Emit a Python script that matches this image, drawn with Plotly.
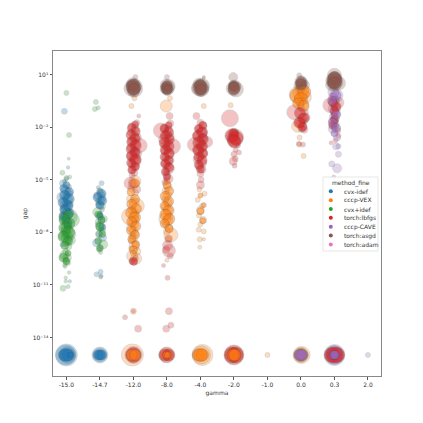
import plotly.graph_objects as go

gamma_labels = ["-15.0", "-14.7", "-12.0", "-8.0", "-4.0", "-2.0", "-1.0", "0.0", "0.3", "2.0"]
exponent_ticks = [1, -2, -5, -8, -11, -14]
exponent_labels = ["10\u00b9", "10\u207b\u00b2", "10\u207b\u2075", "10\u207b\u2078", "10\u207b\u00b9\u00b9", "10\u207b\u00b9\u2074"]
method_names = ["cvx-idef", "cccp-VEX", "cvx+idef", "torch:lbfgs", "cccp-CAVE", "torch:asgd", "torch:adam"]
method_colors = ["#1f77b4", "#ff7f0e", "#2ca02c", "#d62728", "#9467bd", "#8c564b", "#e377c2"]

# Rows: gamma index, horizontal strip offset, log10(gap), bubble size
cvx_idef = [
 (0,-.06,-1.1,6),(0,.05,-4.3,3.5),(0,.0,-4.9,5),(0,-.1,-5.2,7),(0,.08,-5.4,5),(0,-.04,-5.6,8),(0,.1,-5.8,6),(0,.02,-5.9,7),
 (0,-.12,-6.0,11),(0,.05,-6.15,9),(0,-.02,-6.3,8),(0,.1,-6.4,7),(0,-.08,-6.5,8),(0,.04,-6.6,7),(0,-.03,-6.75,9),(0,.09,-6.85,6),
 (0,-.1,-7.0,7),(0,.02,-7.1,8),(0,-.05,-7.25,6),(0,.07,-7.4,6),(0,-.02,-7.55,7),(0,.05,-7.7,6),(0,-.07,-7.85,6),(0,.02,-8.0,7),
 (0,-.04,-8.2,6),(0,.08,-8.35,5),(0,-.12,-8.7,5),(0,.05,-8.55,5),(0,.1,-10.8,3.5),
 (1,.05,-5.2,5),(1,-.05,-5.45,4),(1,.0,-5.7,7),(1,-.08,-5.9,7),(1,.07,-6.05,7),(1,.02,-6.2,8),(1,-.04,-6.45,6),(1,.06,-6.7,5),
 (1,.0,-7.0,6),(1,.05,-7.3,7),(1,-.06,-7.55,5),(1,.02,-7.8,5),(1,-.03,-8.1,7),(1,.08,-8.3,8),(1,-.1,-8.6,8),(1,.0,-8.9,5),
 (1,-.1,-10.4,5),(1,.02,-10.25,5),(1,.04,-10.5,4),
 (0,.03,-15,17),(0,-.02,-15,20),(0,.0,-15,22),(1,.0,-15,14),(1,.0,-15,16),
]
cccp_vex = [
 (2,.03,-.35,5),(2,-.06,-.8,5),(2,.04,-5.1,12),(2,-.08,-5.5,6),(2,.05,-5.75,7),(2,-.1,-6.1,7),(2,.02,-6.3,10),(2,.1,-6.5,15),
 (2,-.05,-6.7,8),(2,.03,-6.9,9),(2,-.1,-7.1,17),(2,.0,-7.15,10),(2,.06,-7.3,8),(2,-.03,-7.45,8),(2,.04,-7.6,7),(2,-.07,-7.75,9),
 (2,.0,-7.9,8),(2,.06,-8.05,7),(2,-.03,-8.2,7),(2,.0,-8.35,8),(2,-.06,-8.5,6),(2,.06,-8.65,6),(2,.02,-8.8,10),(2,-.05,-8.95,6),
 (2,.1,-9.1,8),(2,-.04,-9.35,11),(2,.08,-9.5,11),(2,.0,-9.2,6),(2,.0,-12.5,6),
 (3,-.02,-.8,12),(3,.09,-.35,5),(3,.0,-5.1,6),(3,.03,-5.4,8),(3,-.04,-5.65,7),(3,.02,-5.9,9),(3,-.05,-6.15,7),(3,.04,-6.35,8),
 (3,-.03,-6.55,9),(3,.05,-6.75,8),(3,-.02,-6.95,10),(3,.08,-7.1,7),(3,-.06,-7.25,12),(3,.02,-7.35,10),(3,-.03,-7.55,7),(3,.05,-7.75,8),
 (3,.0,-7.95,7),(3,.12,-8.15,14),(3,.06,-8.35,7),(3,.0,-9.6,4),
 (4,.1,-.8,5),(4,.1,.8,3),(4,-.03,-5.55,5),(4,.12,-5.8,5),(4,-.08,-6.15,5),(4,.05,-6.5,5),(4,.0,-6.75,8),(4,-.04,-7.05,5),
 (4,.08,-7.3,7),(4,.0,-7.55,5),(4,-.05,-7.85,5),(4,.1,-7.95,5),(4,-.02,-8.4,5),(4,.1,-8.4,3.5),(4,-.02,-8.85,4),
 (5,-.1,-.75,5),(7,-.08,-.17,18),(7,.0,-.05,16),(7,.04,.1,13),(7,.1,-.3,14),(7,-.04,-.45,11),(7,.05,-.7,12),(7,-.1,-1.95,12),(7,-.04,-2.6,5),(7,-.05,-3,5),(7,.08,-3.65,5),(7,.02,-1.75,9),
 (2,-.03,-15,22),(3,.0,-15,16),(4,.06,-15,21),(4,.03,-15,18),(5,.0,-15,19),
 (6,.0,-15,5),(7,.02,-15,17),
]
cvx_plus_idef = [
 (0,.0,-.05,5),(0,.08,-2.45,5),(0,.07,-3.8,3),(0,-.12,-4.6,5),(0,.0,-4.95,4),(0,.1,-4.85,4),(0,-.06,-5.1,4),(0,.05,-5.6,5),
 (0,-.03,-6.0,7),(0,.06,-6.35,7),(0,-.08,-6.6,6),(0,.02,-6.85,8),(0,-.04,-7.05,9),(0,.1,-7.1,15),(0,.18,-7.3,14),(0,-.1,-7.35,8),
 (0,.03,-7.5,9),(0,-.05,-7.7,8),(0,.08,-7.85,7),(0,-.02,-8.0,10),(0,.1,-8.1,12),(0,-.1,-8.2,9),(0,.02,-8.3,12),(0,.12,-8.45,10),
 (0,-.03,-8.6,7),(0,.06,-8.8,7),(0,-.02,-9.1,6),(0,-.06,-9.3,9),(0,.03,-9.45,8),(0,-.02,-9.6,6),(0,.05,-9.75,5),(0,-.04,-9.95,4),
 (0,.08,-10.3,3.5),(0,-.02,-10.6,3.5),(0,-.02,-10.8,3.5),(0,-.1,-11.2,6),(0,.05,-11.1,4),(0,-.05,-9.85,4),
 (1,-.12,-.57,5),(1,-.15,-.97,5),(1,-.05,-.9,4),(1,.0,-5.6,5),(1,.07,-5.85,5),(1,-.05,-6.25,6),(1,.06,-6.5,7),(1,-.08,-6.85,9),
 (1,.0,-7.0,6),(1,.12,-7.25,7),(1,-.05,-7.4,6),(1,.0,-7.65,9),(1,.08,-7.9,6),(1,-.02,-8.1,6),(1,.1,-8.7,9),(1,-.02,-9.0,5),(1,.02,-9.15,4),(1,.02,-10.55,4),
]
torch_lbfgs = [
 (2,.16,-1.37,4),(2,.1,-1.75,6),(2,-.05,-1.95,7),(2,.05,-2.1,8),(2,-.08,-2.3,7),(2,.03,-2.5,9),(2,.12,-2.6,8),(2,-.04,-2.75,9),
 (2,.06,-2.95,9),(2,.2,-3.05,14),(2,-.06,-3.15,9),(2,.02,-3.35,8),(2,.1,-3.5,10),(2,-.08,-3.65,8),(2,.02,-3.8,10),(2,.06,-3.95,11),
 (2,-.04,-4.1,8),(2,.06,-4.25,7),(2,-.02,-4.4,8),(2,.03,-4.6,7),(2,-.04,-4.75,6),(2,.0,-5.25,10),(2,.1,-5.55,8),(2,-.1,-5.2,12),
 (2,.02,-9.7,7),(2,.06,-9.5,6),(2,-.05,-9.65,6),(2,-.25,-12.85,5),(2,.14,-13.5,7),(2,.0,-12.5,4),
 (3,.08,-1.37,7),(3,.1,-1.8,7),(3,-.08,-2.05,8),(3,-.18,-2.2,15),(3,.05,-2.15,8),(3,.0,-2.4,9),(3,.1,-2.55,8),(3,-.1,-2.7,10),
 (3,.04,-2.85,9),(3,-.05,-3.0,9),(3,.18,-3.1,15),(3,.02,-3.25,8),(3,-.08,-3.4,7),(3,.06,-3.55,10),(3,-.03,-3.75,8),(3,.08,-3.9,9),
 (3,-.04,-4.05,10),(3,.02,-4.2,8),(3,.06,-4.35,11),(3,-.02,-4.55,7),(3,.0,-4.75,8),(3,.05,-4.95,9),(3,-.06,-5.15,6),(3,.04,-8.4,7),
 (3,.02,-8.75,10),(3,.06,-9.05,13),(3,-.02,-9.0,7),(3,.1,-9.35,6),(3,-.1,-9.9,4),(3,.02,-10.6,5),(3,.06,-12.5,7),(3,.12,-13.3,6),(3,-.02,-13.5,7),
 (4,-.12,-1.37,7),(4,.0,-1.75,7),(4,.08,-1.95,8),(4,-.05,-2.1,7),(4,.05,-2.3,10),(4,-.1,-2.5,9),(4,.08,-2.6,9),(4,.2,-2.85,11),
 (4,.0,-2.95,10),(4,-.18,-3.0,14),(4,.05,-3.15,9),(4,-.06,-3.35,10),(4,.08,-3.5,9),(4,.0,-3.65,8),(4,-.08,-3.85,9),(4,.05,-4.05,9),
 (4,-.03,-4.25,8),(4,.05,-4.4,8),(4,.0,-4.65,7),(4,.0,-5.3,8),(4,.02,-5.0,6),
 (5,-.12,-1.5,17),(5,.0,-2.35,8),(5,-.05,-2.5,11),(5,.06,-2.55,15),(5,-.03,-2.7,12),(5,.03,-2.85,12),(5,.12,-3.05,5),(5,.05,-3.3,5),(5,.15,-3.45,5),(5,.0,-3.55,6),(5,.04,-3.8,6),(5,-.02,-3.95,8),(5,.02,-4.2,5),
 (7,-.2,-1.15,15),(7,.12,-1.15,7),(7,.14,-1.45,9),(7,.05,-1.5,9),(7,-.03,-1.75,10),(7,.05,-1.95,8),(7,.1,-2.15,7),(7,-.06,-2.95,5),(7,.06,-3.0,5),(7,.02,-2.1,7),
 (8,-.04,-.3,9),(8,.02,-.45,8),(8,.12,-.6,11),(8,-.12,-.75,15),(8,.03,-.85,9),(8,.0,-1.35,7),(8,.03,-1.5,8),(8,-.04,-1.65,9),(8,.02,-1.95,7),(8,.1,-2.2,6),(8,.12,-2.5,5),(8,-.1,-2.9,4),(8,.03,-2.75,5),
 (2,.0,-15,17),(3,-.02,-15,15),(5,.0,-15,20),(8,.0,-15,18),
]
cccp_cave = [
 (7,.0,-.9,7),(7,.05,-1.6,6),(8,-.03,.0,11),(8,.06,-.2,13),(8,.0,-.55,10),(8,-.05,-.95,9),(8,.05,-1.2,9),(8,-.03,-1.4,8),(8,.02,-1.8,8),
 (8,-.05,-2.1,9),(8,.08,-2.6,7),(8,.05,-3.1,7),(8,.12,-3.1,5),(8,.12,-3.55,6),(8,-.08,-4.1,6),(8,.08,-4.35,9),(8,-.02,-4.85,4),
 (8,.0,-15,21),(8,.0,-15,19),(9,.0,-15,5),
]
torch_asgd = [
 (2,.06,.85,5),(2,-.02,.45,13),(2,.05,.35,14),(2,.0,.3,15),(2,-.06,.2,15),(2,.05,.15,15),(2,.0,.05,12),(2,-.05,.4,11),
 (3,.0,.85,5),(3,-.02,.4,12),(3,.05,.35,13),(3,.0,.3,11),(3,-.04,.2,11),(3,.02,.15,12),(3,.0,.1,10),(3,.02,.25,14),
 (4,.1,.85,3),(4,-.04,.45,12),(4,.05,.35,15),(4,.0,.3,13),(4,-.06,.2,14),(4,.04,.15,14),(4,.0,.05,11),(4,.0,.25,17),
 (5,-.02,.85,9),(5,-.03,.4,9),(5,.03,.35,12),(5,.0,.3,10),(5,-.04,.2,13),(5,.06,.15,15),(5,.0,.1,11),(5,.02,.25,12),
 (7,-.05,.95,5),(7,.0,.6,12),(7,.03,.5,12),(7,-.03,.4,12),(7,.0,.3,10),(7,.02,.45,10),(7,.12,.4,9),
 (8,.0,.95,14),(8,.02,.75,14),(8,-.02,.65,16),(8,.03,.55,15),(8,.0,.45,14),(8,-.04,.6,12),(8,.12,.5,14),(8,-.1,.4,11),(8,.0,.85,11),
 (7,.0,-15,15),
]
torch_adam = [
 (2,.05,-3.35,7),(2,.03,-3.5,8),(3,.05,-2.45,6),(4,.08,-2.4,7),(4,.05,-2.6,6),(5,.02,-2.35,6),(7,.02,-.8,5),(8,.02,-1.0,5),
]

# Densest parts of each column, drawn with stronger ink
cvx_idef_core = [
 (0,.0,-5.3,7),(0,-.08,-5.5,8),(0,.08,-5.7,9),(0,-.05,-5.9,10),(0,.07,-6.1,11),(0,-.1,-6.3,10),(0,.05,-6.5,10),(0,-.05,-6.7,10),(0,.09,-6.9,9),(0,-.09,-7.1,9),(0,.0,-7.3,9),(0,.05,-7.6,8),
 (1,.05,-5.8,9),(1,-.07,-6.0,9),(1,.07,-6.2,9),(1,.0,-6.45,8),(1,.0,-7.1,7),(1,.07,-7.7,7),
]
cvx_plus_idef_core = [
 (0,.05,-7.0,9),(0,-.07,-7.25,10),(0,.09,-7.5,11),(0,-.05,-7.75,12),(0,.07,-8.0,12),(0,-.09,-8.25,11),(0,.05,-8.5,9),(0,-.05,-8.75,8),(0,.05,-9.2,6),(0,-.09,-9.45,9),(0,.0,-9.65,7),
 (1,-.05,-7.0,7),(1,.05,-7.3,7),(1,.0,-7.7,8),(1,.07,-8.1,7),(1,-.05,-8.5,7),(1,.0,-8.9,7),
]
cccp_vex_core = [
 (2,.05,-5.2,9),(2,-.07,-5.7,8),(2,.05,-6.1,9),(2,-.05,-6.4,10),(2,.09,-6.65,10),(2,-.07,-6.9,11),(2,.05,-7.15,11),(2,-.05,-7.4,10),(2,.07,-7.65,10),(2,-.07,-7.9,9),(2,.05,-8.15,9),(2,-.05,-8.4,8),(2,.07,-8.7,8),(2,.0,-9.0,8),
 (3,.0,-5.3,8),(3,.07,-5.65,9),(3,-.05,-5.95,10),(3,.05,-6.25,10),(3,-.07,-6.5,9),(3,.05,-6.75,11),(3,-.05,-7.0,11),(3,.07,-7.25,11),(3,-.07,-7.5,9),(3,.07,-7.8,8),
 (4,.0,-5.9,5),(4,.1,-6.45,5),(4,.0,-6.8,7),(4,.07,-7.35,6),
 (7,-.12,-.2,14),(7,.1,.0,13),(7,.0,-.4,13),(7,-.08,-.65,11),(7,.08,-.8,11),
]
torch_lbfgs_core = [
 (2,.05,-1.85,7),(2,-.05,-2.05,9),(2,.07,-2.25,9),(2,-.07,-2.45,10),(2,.05,-2.65,10),(2,-.05,-2.85,10),(2,.07,-3.05,11),(2,-.07,-3.25,10),(2,.05,-3.45,10),(2,-.05,-3.65,11),(2,.07,-3.85,11),(2,-.07,-4.05,9),(2,.05,-4.25,9),(2,-.05,-4.45,8),(2,.0,-9.65,8),
 (3,.05,-1.9,7),(3,-.07,-2.1,9),(3,.05,-2.3,10),(3,-.05,-2.5,10),(3,.07,-2.7,10),(3,-.07,-2.9,11),(3,.05,-3.1,11),(3,-.05,-3.3,10),(3,.07,-3.5,10),(3,-.07,-3.7,9),(3,.05,-3.9,9),(3,-.05,-4.1,9),(3,.07,-4.3,9),(3,-.05,-4.55,8),(3,.0,-4.85,7),
 (4,.07,-1.9,8),(4,-.05,-2.1,9),(4,.05,-2.3,11),(4,-.07,-2.5,11),(4,.07,-2.7,11),(4,-.05,-2.9,12),(4,.05,-3.1,11),(4,-.07,-3.3,11),(4,.07,-3.5,10),(4,-.05,-3.7,10),(4,.05,-3.9,10),(4,-.05,-4.15,9),(4,.0,-4.4,8),
 (5,.0,-2.35,10),(5,-.06,-2.5,14),(5,.07,-2.65,14),(5,.0,-2.8,13),
 (7,-.03,-1.2,11),(7,.08,-1.5,11),(7,-.05,-1.75,11),(7,.05,-2.0,9),
 (8,-.05,-.6,9),(8,.05,-.85,10),(8,.0,-1.1,9),(8,.0,-1.6,8),(8,-.05,-1.9,8),
]
cccp_cave_core = [
 (8,.05,-.2,10),(8,-.07,-.5,9),(8,.05,-1.3,9),(8,-.05,-1.75,9),(8,.05,-2.05,9),(8,.0,-2.35,7),
]
torch_asgd_core = [
 (2,.0,.4,12),(2,.0,.25,14),(2,.02,.15,12),(3,.0,.35,10),(3,.0,.2,11),(3,.02,.15,9),
 (4,.0,.4,11),(4,.0,.25,14),(4,.02,.15,11),(5,.0,.35,10),(5,.0,.2,12),
 (7,.0,.6,10),(7,.0,.45,11),(8,.0,.8,13),(8,.0,.65,15),(8,.0,.5,12),
]
# Stacked runs at the numerical floor of each gamma
floor_cvx_idef = [(0,-.06,-15,12),(0,.06,-15,12),(0,.0,-15,13),(0,.12,-15,6),(1,-.05,-15,10),(1,.05,-15,10),(1,.0,-15,10)]
floor_torch_lbfgs = [(2,.0,-15,15),(3,-.05,-15,12),(3,.05,-15,12),(5,-.04,-15,16),(5,.04,-15,16),(8,-.08,-15,15),(8,.08,-15,15),(8,.0,-15,16)]
floor_cccp_vex = [(2,-.05,-15,11),(2,.05,-15,11),(3,-.03,-15,7),(3,.03,-15,7),(4,-.06,-15,12),(4,.06,-15,12),(4,.0,-15,13),(5,-.03,-15,12),(5,.03,-15,12),(7,.0,-15,13)]
floor_cccp_cave = [(7,-.04,-15,11),(7,.04,-15,11),(7,.0,-15,11),(8,-.03,-15,9),(8,.03,-15,9),(8,.0,-15,9)]

def add_marks(fig, rows, color, alpha, outline):
    fig.add_trace(go.Scatter(
        x=[r[0] + r[1] for r in rows],
        y=[10 ** r[2] for r in rows],
        mode="markers", showlegend=False, hoverinfo="skip",
        marker=dict(size=[r[3] for r in rows], color=color, opacity=alpha,
                    line=dict(color="#444444", width=outline)),
    ))

fig = go.Figure()
base_rows = [cvx_idef, cccp_vex, cvx_plus_idef, torch_lbfgs, cccp_cave, torch_asgd, torch_adam]
for color, rows in zip(method_colors, base_rows):
    add_marks(fig, rows, color, 0.27, 0.6)
core_rows = [(cvx_idef_core, 0), (cvx_plus_idef_core, 2), (cccp_vex_core, 1), (torch_lbfgs_core, 3),
             (cccp_cave_core, 4), (torch_asgd_core, 5)]
for rows, i in core_rows:
    add_marks(fig, rows, method_colors[i], 0.5, 0.4)
floor_rows = [(floor_cvx_idef, 0), (floor_torch_lbfgs, 3), (floor_cccp_vex, 1), (floor_cccp_cave, 4)]
for rows, i in floor_rows:
    add_marks(fig, rows, method_colors[i], 0.55, 0.4)

# Legend drawn in figure space so its rows can be as tight as the reference
PLOT_L, PLOT_R, PLOT_T, PLOT_B = 53, 381, 51, 376
def fx(px):
    return (px - PLOT_L) / (PLOT_R - PLOT_L)
def fy(py):
    return (PLOT_B - py) / (PLOT_B - PLOT_T)

shapes = [dict(type="rect", xref="paper", yref="paper", x0=fx(323), x1=fx(378), y0=fy(251), y1=fy(177),
               fillcolor="rgba(255,255,255,0.85)", line=dict(color="#dddddd", width=0.7), layer="above")]
annotations = [dict(text="method_fine", xref="paper", yref="paper", x=fx(350.5), y=fy(182.5),
                    xanchor="center", yanchor="middle", showarrow=False, font=dict(size=6))]
for i, (name, color) in enumerate(zip(method_names, method_colors)):
    row_y = 191.3 + i * 8.85
    shapes.append(dict(type="circle", xref="paper", yref="paper", x0=fx(328.8), x1=fx(332.8),
                       y0=fy(row_y + 2), y1=fy(row_y - 2), fillcolor=color, line=dict(width=0), layer="above"))
    annotations.append(dict(text=name, xref="paper", yref="paper", x=fx(341.5), y=fy(row_y),
                            xanchor="left", yanchor="middle", showarrow=False, font=dict(size=6)))

# The page adds an 8 px body margin, so margins are measured from there
fig.update_layout(
    width=423, height=423, autosize=False,
    margin=dict(l=PLOT_L - 8, r=423 - PLOT_R + 8, t=PLOT_T - 8, b=423 - PLOT_B + 8),
    paper_bgcolor="white", plot_bgcolor="white",
    font=dict(family="DejaVu Sans", size=6, color="#333333"),
    showlegend=False, shapes=shapes, annotations=annotations,
)
fig.update_xaxes(
    range=[-0.4, 9.39], tickmode="array", tickvals=list(range(len(gamma_labels))), ticktext=gamma_labels,
    title=dict(text="gamma", standoff=4, font=dict(size=6)),
    showgrid=False, zeroline=False, showline=True, mirror=True, linecolor="#888888", linewidth=1,
    ticks="outside", ticklen=2.5, tickwidth=0.6, tickcolor="#555555",
)
fig.update_yaxes(
    type="log", range=[-16.2, 2.34],
    tickmode="array", tickvals=[10.0 ** e for e in exponent_ticks], ticktext=exponent_labels,
    title=dict(text="gap", standoff=4, font=dict(size=6)),
    showgrid=False, zeroline=False, showline=True, mirror=True, linecolor="#888888", linewidth=1,
    ticks="outside", ticklen=2.5, tickwidth=0.6, tickcolor="#555555",
)
fig.write_html("out.html")
